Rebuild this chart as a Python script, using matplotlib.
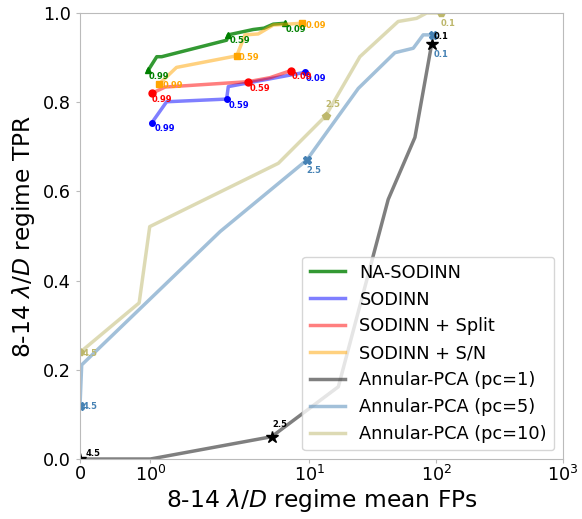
import numpy as np
import matplotlib.pyplot as plt

# threshold labels shown next to the markers
sodinn_thr = ['0.99', '0.59', '0.09']
pca_thr = ['4.5', '2.5', '0.1']

# NA-SODINN
na_fp = [0.97, 1.09, 1.16, 2.22, 2.29, 3.60, 4.38, 5.18, 6.41]
na_tpr = [0.872, 0.902, 0.902, 0.939, 0.951, 0.963, 0.966, 0.975, 0.977]
na_mark = [0, 4, 8]

# SODINN
so_fp = [1.02, 1.23, 2.22, 2.29, 9.21]
so_tpr = [0.754, 0.801, 0.807, 0.835, 0.867]
so_mark = [0, 2, 4]

# SODINN + Split
sp_fp = [1.02, 1.21, 3.29, 4.88, 7.15]
sp_tpr = [0.820, 0.834, 0.846, 0.855, 0.871]
sp_mark = [0, 2, 4]

# SODINN + S/N
sn_fp = [1.125, 1.37, 2.67, 3.10, 3.94, 5.18, 8.67]
sn_tpr = [0.841, 0.878, 0.904, 0.951, 0.953, 0.973, 0.977]
sn_mark = [0, 2, 6]

# Annular-PCA pc=1
p1_fp = [0.0, 1.0, 5.03, 16.9, 41.8, 67.9, 92.1]
p1_tpr = [0.0, 0.0, 0.05, 0.162, 0.582, 0.721, 0.931]
p1_mark = [0, 2, 6]

# Annular-PCA pc=5
p5_fp = [0.0, 0.024, 1.99, 9.5, 24.3, 47.2, 65.9, 78.9, 94.6]
p5_tpr = [0.119, 0.211, 0.51, 0.670, 0.831, 0.911, 0.921, 0.951, 0.951]
p5_mark = [0, 3, 8]

# Annular-PCA pc=10
p10_fp = [0.0, 0.84, 0.99, 5.68, 13.4, 25.0, 50.1, 70.0, 84.0, 109.0]
p10_tpr = [0.239, 0.350, 0.521, 0.663, 0.769, 0.902, 0.981, 0.988, 1.0, 1.0]
p10_mark = [0, 4, 9]

series = [
    # fp, tpr, marks, labels, name, line colour, alpha, marker, marker colour, ms, label offsets (px)
    (na_fp, na_tpr, na_mark, sodinn_thr, 'NA-SODINN', 'green', 0.8, '^', 'green', 5,
     [(0, -6), (1, -6), (1, -6)]),
    (so_fp, so_tpr, so_mark, sodinn_thr, 'SODINN', 'blue', 0.5, 'o', 'blue', 4,
     [(3, -6), (2, -6), (1, -6)]),
    (sp_fp, sp_tpr, sp_mark, sodinn_thr, 'SODINN + Split', 'red', 0.5, 'o', 'red', 5,
     [(0, -6), (1, -7), (1, -6)]),
    (sn_fp, sn_tpr, sn_mark, sodinn_thr, 'SODINN + S/N', 'orange', 0.5, 's', 'orange', 5,
     [(3, -2), (2, -2), (4, -2)]),
    (p1_fp, p1_tpr, p1_mark, pca_thr, 'Annular-PCA (pc=1)', 'black', 0.5, '*', 'black', 9,
     [(6, 6), (1, 12), (2, 7)]),
    (p5_fp, p5_tpr, p5_mark, pca_thr, 'Annular-PCA (pc=5)', 'steelblue', 0.5, 'X', 'steelblue', 6,
     [(3, -1), (0, -10), (0, -20)]),
    (p10_fp, p10_tpr, p10_mark, pca_thr, 'Annular-PCA (pc=10)', 'darkkhaki', 0.5, 'p', 'darkkhaki', 6,
     [(3, -1), (0, 12), (0, -10)]),
]

fig = plt.figure(figsize=(5.82, 5.19), dpi=100)
ax = fig.add_axes([80 / 582, 60 / 519, 483 / 582, 446 / 519])

for fp, tpr, marks, labs, name, lc, alpha, mk, mc, ms, offs in series:
    ax.plot(fp, tpr, color=lc, alpha=alpha, lw=2.5, label=name)
    mx = [fp[i] for i in marks]
    my = [tpr[i] for i in marks]
    ax.plot(mx, my, ls='none', marker=mk, color=mc, ms=ms)
    for x, y, t, (dx, dy) in zip(mx, my, labs, offs):
        ax.annotate(t, (x, y), xytext=(dx, dy), textcoords='offset pixels',
                    ha='left', va='center', fontsize=6, fontweight='bold', color=mc)

ax.set_xscale('symlog', linthresh=2, linscale=1)
ax.set_xlim(0, 1000)
ax.set_ylim(0, 1)
ax.set_xticks([0, 1, 10, 100, 1000])
ax.set_yticks([0, 0.2, 0.4, 0.6, 0.8, 1.0])

for s in ax.spines.values():
    s.set_color('#bbbbbb')
ax.tick_params(length=3, width=0.8, color='#bbbbbb', labelsize=12.7)
ax.tick_params(axis='x', pad=1)
ax.tick_params(axis='x', which='minor', length=0)

ax.set_xlabel(r'8-14 $\lambda/D$ regime mean FPs', fontsize=16.8, labelpad=2)
ax.set_ylabel(r'8-14 $\lambda/D$ regime TPR', fontsize=16.8, labelpad=4)

ax.legend(loc='lower right', fontsize=12.8)

fig.savefig('out.png', dpi=100)
